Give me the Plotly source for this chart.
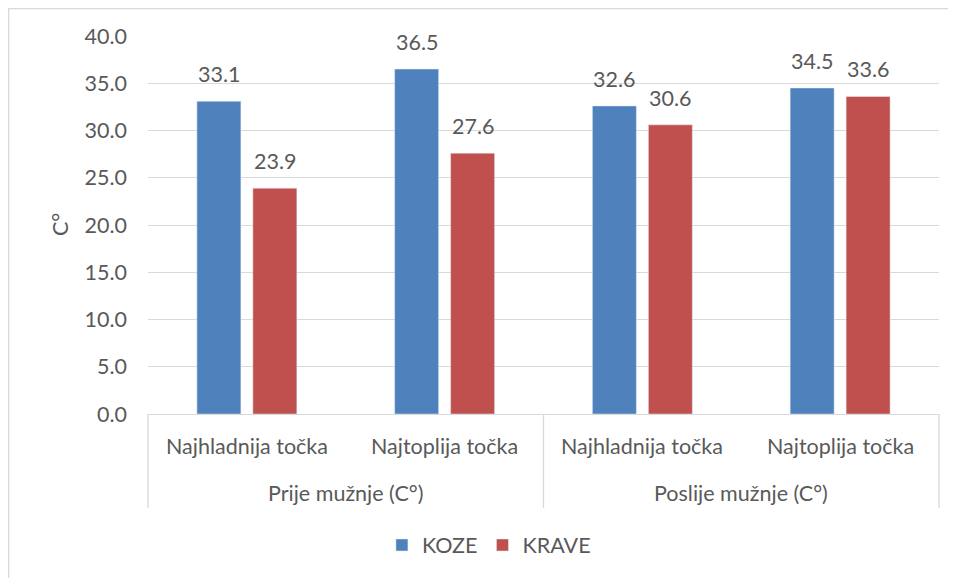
import plotly.graph_objects as go

groups = ["Prije mužnje (C°)", "Prije mužnje (C°)", "Poslije mužnje (C°)", "Poslije mužnje (C°)"]
points = ["Najhladnija točka", "Najtoplija točka", "Najhladnija točka", "Najtoplija točka"]
koze = [33.1, 36.5, 32.6, 34.5]
krave = [23.9, 27.6, 30.6, 33.6]
y_ticks = [0, 5, 10, 15, 20, 25, 30, 35, 40]

FONT = "Lato"
FS = 21.5
TXT = "#595959"
GRID = "#D9D9D9"
BARGAP = 0.434
GROUPGAP = 0.214

# figure is placed at page offset (8, 8) by the browser's default body margin
L, R, T, B = 140, 17, 28, 164
W, H = 948, 570
PW, PH = W - L - R, H - T - B

fig = go.Figure()
fig.add_trace(go.Bar(name="KOZE", x=[groups, points], y=koze, marker_color="#4F81BD"))
fig.add_trace(go.Bar(name="KRAVE", x=[groups, points], y=krave, marker_color="#C0504D"))

# data labels above each bar (bar centre derived from bargap)
slot = (1 - BARGAP) / 2
annotations = []
for k, vals in enumerate([koze, krave]):
    off = -slot / 2 + k * slot
    for i, v in enumerate(vals):
        annotations.append(dict(x=i + off, y=v, xref="x", yref="y", text=f"{v:.1f}",
                                showarrow=False, xanchor="center", yanchor="bottom", yshift=12,
                                font=dict(size=FS, color=TXT, family=FONT)))

# category labels (inner and outer level)
for i, p in enumerate(points):
    annotations.append(dict(x=(i + 0.5) / len(points), y=-32 / PH, xref="paper", yref="paper",
                            text=p, showarrow=False, xanchor="center", yanchor="middle",
                            font=dict(size=FS, color=TXT, family=FONT)))
uniq_groups = list(dict.fromkeys(groups))
for j, g in enumerate(uniq_groups):
    annotations.append(dict(x=(j + 0.5) / len(uniq_groups), y=-79 / PH, xref="paper", yref="paper",
                            text=g, showarrow=False, xanchor="center", yanchor="middle",
                            font=dict(size=FS, color=TXT, family=FONT)))
# y axis title
annotations.append(dict(x=-88 / PW, y=0.5, xref="paper", yref="paper", text="C°", textangle=-90,
                        showarrow=False, xanchor="center", yanchor="middle",
                        font=dict(size=FS, color=TXT, family=FONT)))

shapes = []
for j in range(len(uniq_groups) + 1):
    xp = j / len(uniq_groups)
    shapes.append(dict(type="line", xref="paper", yref="paper", x0=xp, x1=xp, y0=0, y1=-94 / PH,
                       line=dict(color=GRID, width=1.3)))
# chart-area border (left and top visible)
shapes.append(dict(type="rect", xref="paper", yref="paper", x0=(-L + 0.7) / PW, x1=1.3,
                   y0=-0.8, y1=1 + (T - 0.7) / PH, line=dict(color=GRID, width=1.3),
                   fillcolor="rgba(0,0,0,0)", layer="below"))

fig.update_layout(
    width=W, height=H,
    margin=dict(l=L, r=R, t=T, b=B, autoexpand=False),
    paper_bgcolor="white", plot_bgcolor="white",
    font=dict(family=FONT, size=FS, color=TXT),
    barmode="group", bargap=BARGAP, bargroupgap=GROUPGAP,
    legend=dict(orientation="h", x=0.431, xanchor="center", y=-131 / PH, yanchor="middle",
                font=dict(size=FS, color=TXT, family=FONT), itemwidth=30),
    showlegend=True,
    annotations=annotations, shapes=shapes,
)
fig.update_yaxes(range=[0, 40], tickvals=y_ticks, tickformat=".1f", showgrid=True, gridcolor=GRID,
                 gridwidth=1.3, zeroline=False, showline=False, ticks="", automargin=False,
                 ticklabelstandoff=20, tickfont=dict(size=FS, color=TXT, family=FONT))
fig.update_xaxes(type="multicategory", showline=True, linecolor=GRID, linewidth=1.3,
                 showticklabels=False, showdividers=False, ticks="", automargin=False,
                 range=[-0.5, len(points) - 0.5])

fig.write_html("out.html")
